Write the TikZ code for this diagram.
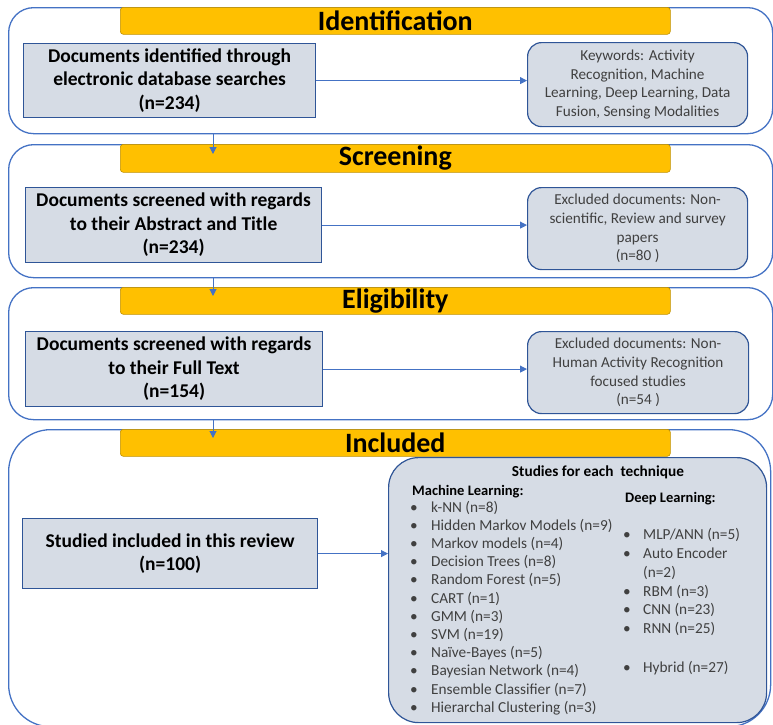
\documentclass[tikz,border=0pt]{standalone}
\usepackage{fontspec}
\setmainfont{Carlito}
\usetikzlibrary{arrows.meta}
\definecolor{panelblue}{RGB}{68,114,196}
\definecolor{boxline}{RGB}{47,85,151}
\definecolor{boxfill}{RGB}{214,220,229}
\definecolor{bannerfill}{RGB}{255,192,0}
\definecolor{bannerline}{RGB}{191,144,0}
\definecolor{greytext}{RGB}{64,64,64}
\tikzset{
  panel/.style={draw=panelblue, line width=1.3pt, rounded corners=25pt, anchor=north west, inner sep=0pt},
  bannerbox/.style={fill=bannerfill, draw=bannerline, line width=0.6pt, rounded corners=3pt,
    anchor=north west, inner sep=0pt, minimum width=550pt, font=\fontsize{28}{30}\selectfont\bfseries},
  leftbox/.style={fill=boxfill, draw=boxline, line width=1.2pt, anchor=north west, inner sep=0pt,
    align=center, font=\fontsize{19.5}{23.5}\selectfont\bfseries},
  rightbox/.style={fill=boxfill, draw=boxline, line width=1.2pt, rounded corners=14pt, anchor=north west,
    inner sep=0pt, align=center, text=greytext, font=\fontsize{15.2}{18.6}\selectfont},
  flow/.style={draw=panelblue, line width=1pt, -{Triangle[width=7pt,length=7pt]}},
  listhead/.style={anchor=base west, inner sep=0pt, font=\fontsize{14.5}{16}\selectfont\bfseries},
  bul/.style={anchor=base, inner sep=0pt, text=greytext, font=\fontsize{15.3}{17}\selectfont},
  item/.style={anchor=base west, inner sep=0pt, text=greytext, font=\fontsize{15.3}{17}\selectfont},
}
\begin{document}
\begin{tikzpicture}[x=1pt, y=-1pt]
\useasboundingbox (0,0) rectangle (773,724);
\clip (0,0) rectangle (773,724);

% stage panels
\node[panel, minimum width=764pt, minimum height=126pt] (p1) at (8,7) {};
\node[panel, minimum width=764pt, minimum height=133pt] (p2) at (8,144) {};
\node[panel, minimum width=764pt, minimum height=132pt] (p3) at (8,287) {};
\node[panel, rounded corners=42pt, minimum width=762pt, minimum height=297pt] (p4) at (8,429) {};

% stage banners
\node[bannerbox, minimum height=27pt] (b1) at (120,7) {Identification};
\node[bannerbox, minimum height=28pt] (b2) at (120,144) {Screening};
\node[bannerbox, minimum height=27pt] (b3) at (120,287) {Eligibility};
\node[bannerbox, minimum height=27pt] (b4) at (120,429) {Included};

% counts per stage
\node[leftbox, minimum width=292pt, minimum height=74pt] (l1) at (23,43)
  {Documents identified through\\electronic database searches\\(n=234)};
\node[leftbox, minimum width=296pt, minimum height=75pt] (l2) at (25,187)
  {Documents screened with regards\\to their Abstract and Title\\(n=234)};
\node[leftbox, minimum width=297pt, minimum height=75pt] (l3) at (25,331)
  {Documents screened with regards\\to their Full Text\\(n=154)};
\node[leftbox, minimum width=295pt, minimum height=70pt] (l4) at (22,518)
  {Studied included in this review\\(n=100)};

% side notes
\node[rightbox, minimum width=220pt, minimum height=84pt] (r1) at (527,42)
  {Keywords: Activity\\Recognition, Machine\\Learning, Deep Learning, Data\\Fusion, Sensing Modalities};
\node[rightbox, minimum width=220pt, minimum height=82pt] (r2) at (527,187)
  {Excluded documents: Non-\\scientific, Review and survey\\papers\\(n=80 )};
\node[rightbox, minimum width=221pt, minimum height=82pt] (r3) at (527,331)
  {Excluded documents: Non-\\Human Activity Recognition\\focused studies\\(n=54 )};
\node[rightbox, rounded corners=30pt, minimum width=378pt, minimum height=265pt] (r4) at (388,457) {};

% technique breakdown
\node[listhead, anchor=base, font=\fontsize{15.3}{17}\selectfont\bfseries] (tt) at (598,476) {Studies for each\ \ technique};
\node[listhead] (mlh) at (412,495) {Machine Learning:};
\node[listhead] (dlh) at (625,502) {Deep Learning:};

\foreach \t [count=\i from 0] in {k-NN (n=8), Hidden Markov Models (n=9), Markov models (n=4),
    Decision Trees (n=8), Random Forest (n=5), CART (n=1), GMM (n=3), SVM (n=19),
    Naïve-Bayes (n=5), Bayesian Network (n=4), Ensemble Classifier (n=7), Hierarchal Clustering (n=3)} {
  \node[bul] (mlb\i) at (414,512+18.2*\i) {•};
  \node[item] (mli\i) at (431,512+18.2*\i) {\t};
}

\node[bul] (dlb0) at (627,539) {•};
\node[item] (dli0) at (643,539) {MLP/ANN (n=5)};
\node[bul] (dlb1) at (627,558) {•};
\node[item] (dli1) at (643,558) {Auto Encoder};
\node[item] (dli1b) at (643,577) {(n=2)};
\node[bul] (dlb2) at (627,596) {•};
\node[item] (dli2) at (643,596) {RBM (n=3)};
\node[bul] (dlb3) at (627,614) {•};
\node[item] (dli3) at (643,614) {CNN (n=23)};
\node[bul] (dlb4) at (627,633) {•};
\node[item] (dli4) at (643,633) {RNN (n=25)};
\node[bul] (dlb5) at (627,672) {•};
\node[item] (dli5) at (643,672) {Hybrid (n=27)};

% connectors
\draw[flow] (l1.east) -- (l1.east -| r1.west);
\draw[flow] (l2.east) -- (l2.east -| r2.west);
\draw[flow] (l3.east) -- (l3.east -| r3.west);
\draw[flow] (l4.east) -- (l4.east -| r4.west);

\coordinate (t2) at (213,154);
\coordinate (t3) at (213,296);
\coordinate (t4) at (213,438);
\draw[flow] (p1.south -| t2) -- (t2);
\draw[flow] (p2.south -| t3) -- (t3);
\draw[flow] (p3.south -| t4) -- (t4);
\end{tikzpicture}
\end{document}
